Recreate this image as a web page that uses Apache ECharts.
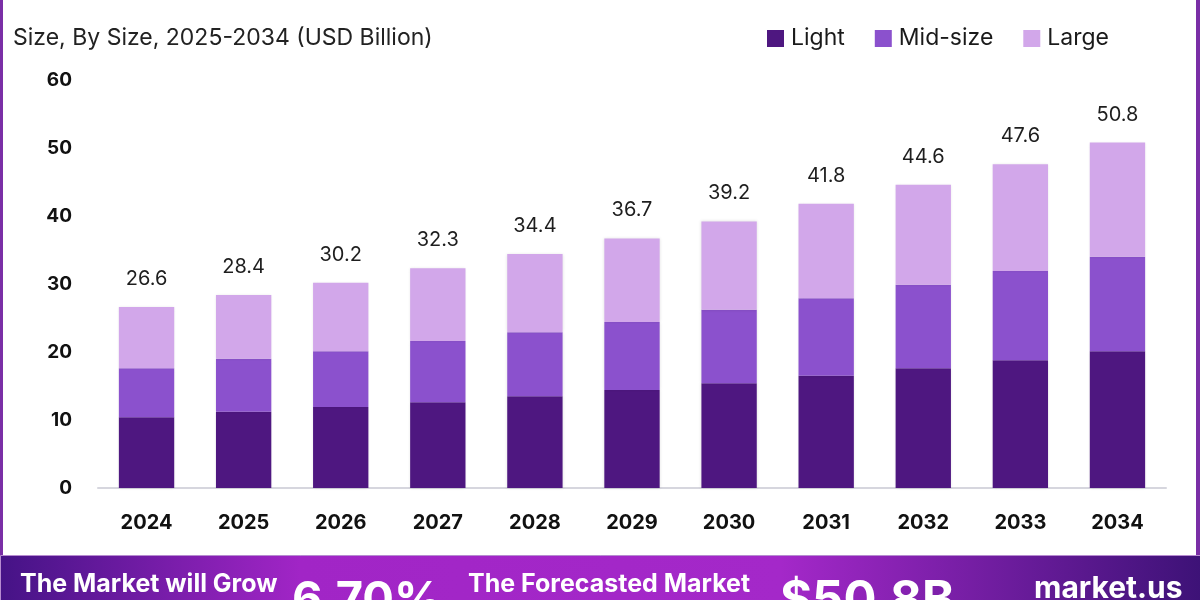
<!DOCTYPE html>
<html lang="en">
<head>
    <meta charset="UTF-8">
    <title>Market Size, By Size</title>
    <script src="https://cdn.jsdelivr.net/npm/echarts@6/dist/echarts.min.js"></script>
    <style>
        html, body { margin: 0; padding: 0; background: #fff; }
        #main { width: 1200px; height: 600px; }
    </style>
</head>
<body>
<div id="main"></div>
<script>
    // values (USD Billion)
    var years = ['2024', '2025', '2026', '2027', '2028', '2029', '2030', '2031', '2032', '2033', '2034'];
    var light = [10.4, 11.2, 11.9, 12.6, 13.5, 14.4, 15.4, 16.5, 17.6, 18.8, 20.1];
    var midSize = [7.2, 7.8, 8.2, 9.0, 9.4, 10.0, 10.8, 11.4, 12.3, 13.1, 13.9];
    var large = [9.0, 9.4, 10.1, 10.7, 11.5, 12.3, 13.0, 13.9, 14.7, 15.7, 16.8];
    var totals = [26.6, 28.4, 30.2, 32.3, 34.4, 36.7, 39.2, 41.8, 44.6, 47.6, 50.8];

    var font = 'Inter';
    var chart = echarts.init(document.getElementById('main'));

    function barSeries(name, data, color) {
        return {
            name: name,
            type: 'bar',
            stack: 'size',
            barWidth: '57%',
            data: data,
            itemStyle: {
                color: color,
                shadowColor: 'rgba(0,0,0,0.12)',
                shadowBlur: 3
            }
        };
    }

    var seriesLarge = barSeries('Large', large, '#d2a7ea');
    seriesLarge.label = {
        show: true,
        position: 'top',
        distance: 18,
        fontFamily: font,
        fontSize: 20,
        color: '#1e1e1e',
        formatter: function (p) { return totals[p.dataIndex].toFixed(1); }
    };

    var option = {
        animation: false,
        backgroundColor: '#ffffff',
        grid: { left: 98, right: 34, top: 80, bottom: 112 },
        legend: {
            right: 86,
            top: 22,
            itemWidth: 17,
            itemHeight: 17,
            itemGap: 30,
            icon: 'rect',
            textStyle: { fontFamily: font, fontSize: 23, color: '#1a1a1a', padding: [0, 0, 0, 2] },
            data: ['Light', 'Mid-size', 'Large']
        },
        xAxis: {
            type: 'category',
            data: years,
            axisTick: { show: false },
            axisLine: { lineStyle: { color: '#d6d6de', width: 2 } },
            axisLabel: {
                margin: 25,
                fontFamily: font,
                fontSize: 20,
                fontWeight: 'bold',
                color: '#111'
            }
        },
        yAxis: {
            type: 'value',
            min: 0,
            max: 60,
            interval: 10,
            splitLine: { show: false },
            axisLine: { show: false },
            axisTick: { show: false },
            axisLabel: {
                margin: 26,
                fontFamily: font,
                fontSize: 19,
                fontWeight: 'bold',
                color: '#111'
            }
        },
        graphic: [
            { type: 'rect', left: 0, top: 0, shape: { width: 3, height: 556 }, style: { fill: '#7a2ea6' }, z: 10 },
            { type: 'rect', left: 1196, top: 0, shape: { width: 4, height: 556 }, style: { fill: '#7a2ea6' }, z: 10 },
            {
                type: 'text', left: 13, top: 27, z: 10,
                style: { text: 'Size, By Size, 2025-2034 (USD Billion)', fontFamily: font, fontSize: 23, fill: '#222' }
            },
            {
                type: 'rect', left: 0, top: 555, z: 10,
                shape: { width: 1200, height: 45 },
                style: {
                    fill: new echarts.graphic.LinearGradient(0, 0, 1, 0, [
                        { offset: 0, color: '#451386' },
                        { offset: 0.25, color: '#a125c6' },
                        { offset: 0.65, color: '#a428c9' },
                        { offset: 1, color: '#3d1277' }
                    ]),
                    stroke: '#b68bd0',
                    lineWidth: 1
                }
            },
            {
                type: 'text', left: 20, top: 572, z: 11,
                style: { text: 'The Market will Grow', fontFamily: font, fontSize: 25, fontWeight: 'bold', fill: '#fff' }
            },
            {
                type: 'text', left: 292, top: 577, z: 11,
                style: { text: '6.70%', fontFamily: font, fontSize: 47, fontWeight: 'bold', fill: '#fff' }
            },
            {
                type: 'text', left: 468, top: 572, z: 11,
                style: { text: 'The Forecasted Market', fontFamily: font, fontSize: 25, fontWeight: 'bold', fill: '#fff' }
            },
            {
                type: 'text', left: 780, top: 577, z: 11,
                style: { text: '$50.8B', fontFamily: font, fontSize: 49, fontWeight: 'bold', fill: '#fff' }
            },
            {
                type: 'text', left: 1034, top: 574, z: 11,
                style: { text: 'market.us', fontFamily: font, fontSize: 30, fontWeight: 'bold', fill: '#fff' }
            }
        ],
        series: [
            barSeries('Light', light, '#4e1780'),
            barSeries('Mid-size', midSize, '#8b51cd'),
            seriesLarge
        ]
    };

    chart.setOption(option);
</script>
</body>
</html>
